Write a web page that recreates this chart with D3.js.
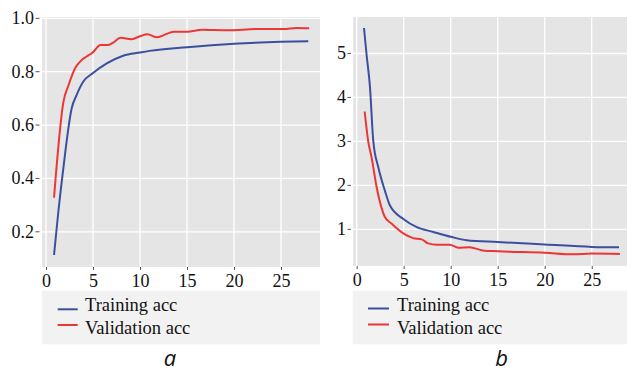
<!DOCTYPE html>
<html>
<head>
<meta charset="utf-8">
<script src="https://cdn.jsdelivr.net/npm/d3@7"></script>
<style>
  html, body { margin: 0; padding: 0; background: #fff; }
  svg { display: block; }
</style>
</head>
<body>
<svg id="chart" width="627" height="372"></svg>
<script>
// ---------------- data ----------------
const seriesNames = ["Training acc", "Validation acc"];
const xTicks = [0, 5, 10, 15, 20, 25];

// panel a: accuracy
const accTicks = [0.2, 0.4, 0.6, 0.8, 1.0];
const accTrainX = [0.85, 1.31, 1.84, 2.73, 3.26, 3.97, 5, 6.46, 8.2, 10, 11, 15, 20, 25, 27.9];
const accTrainY = [0.113, 0.276, 0.438, 0.663, 0.713, 0.763, 0.795, 0.831, 0.86, 0.872, 0.878, 0.892, 0.905, 0.912, 0.914];
const accValX = [0.85, 1.84, 2.4, 3.09, 3.6, 5, 5.8, 6.6, 7.2, 7.9, 9.1, 10, 10.8, 11.8, 13.6, 15, 16.6, 19.3, 22.5, 25.3, 26.7, 28];
const accValY = [0.328, 0.685, 0.75, 0.813, 0.837, 0.873, 0.9, 0.9, 0.91, 0.927, 0.922, 0.933, 0.94, 0.929, 0.95, 0.95, 0.957, 0.955, 0.96, 0.96, 0.964, 0.963];

// panel b: loss
const lossTicks = [1, 2, 3, 4, 5];
const lossTrainX = [0.78, 1.06, 1.41, 1.77, 2.3, 3.0, 3.54, 5, 6.4, 8.15, 10, 11.7, 15, 20, 25, 27.9];
const lossTrainY = [5.58, 4.96, 4.25, 3.0, 2.41, 1.88, 1.54, 1.23, 1.05, 0.94, 0.83, 0.75, 0.71, 0.655, 0.6, 0.59];
const lossValX = [0.85, 1.23, 1.6, 2.13, 3.0, 3.7, 5, 6, 6.9, 7.6, 8.5, 9.9, 10.8, 12, 13.4, 15, 20, 23, 25, 28];
const lossValY = [3.68, 3.0, 2.62, 1.95, 1.28, 1.13, 0.9, 0.8, 0.77, 0.68, 0.65, 0.65, 0.58, 0.59, 0.52, 0.5, 0.465, 0.43, 0.45, 0.44];

const panelLabels = ["a", "b"];

// ---------------- styles ----------------
const colors = ["#3b4fa0", "#ec3535"];
const panelBg = "#e5e5e5";
const legendBg = "#f2f2f2";
const serif = '"Liberation Serif"';

const svg = d3.select("#chart");

const panels = [
  {
    left: 42, right: 320, top: 17, bottom: 267,
    xDomain: [-0.43, 29.15],
    yDomain: [0.068, 1.005],
    yTicks: accTicks, yFmt: d3.format(".1f"),
    tickLabelRight: 34, tickX1: 35.5, tickX2: 39.5,
    series: [[accTrainX, accTrainY], [accValX, accValY]],
    legend: { x1: 42, x2: 320, y1: 290.7, y2: 344.3, lx1: 57.7, lx2: 77.7, ly: [309.3, 325], tx: 85, ty: [311, 334] },
    label: { x: 170, y: 366 }
  },
  {
    left: 353, right: 627, top: 17, bottom: 266,
    xDomain: [-0.39, 28.75],
    yDomain: [0.165, 5.83],
    yTicks: lossTicks, yFmt: d3.format("d"),
    tickLabelRight: 346, tickX1: 347.5, tickX2: 351,
    series: [[lossTrainX, lossTrainY], [lossValX, lossValY]],
    legend: { x1: 352.7, x2: 627, y1: 290.7, y2: 344.3, lx1: 368, lx2: 389, ly: [308.5, 324.5], tx: 397, ty: [311, 334] },
    label: { x: 501.7, y: 366 }
  }
];

panels.forEach((p, pi) => {
  const x = d3.scaleLinear().domain(p.xDomain).range([p.left, p.right]);
  const y = d3.scaleLinear().domain(p.yDomain).range([p.bottom, p.top]);
  const g = svg.append("g");

  g.append("rect")
    .attr("x", p.left).attr("y", p.top)
    .attr("width", p.right - p.left).attr("height", p.bottom - p.top)
    .attr("fill", panelBg);

  g.selectAll(".vg").data(xTicks).join("line")
    .attr("x1", d => x(d)).attr("x2", d => x(d))
    .attr("y1", p.top).attr("y2", p.bottom)
    .attr("stroke", "#fff").attr("stroke-width", 1.3);
  g.selectAll(".hg").data(p.yTicks).join("line")
    .attr("x1", p.left).attr("x2", p.right)
    .attr("y1", d => y(d)).attr("y2", d => y(d))
    .attr("stroke", "#fff").attr("stroke-width", 1.3);

  const xAxis = d3.axisBottom(x).tickValues(xTicks).tickSize(3).tickPadding(4).tickSizeOuter(0);
  const xg = g.append("g").attr("transform", `translate(0,${p.bottom})`).call(xAxis);
  xg.attr("font-family", null).attr("font-size", null);
  xg.select(".domain").remove();
  xg.selectAll(".tick line").attr("stroke", "#555").attr("stroke-width", 1);
  xg.selectAll(".tick text")
    .style("font-family", serif)
    .style("font-size", "18px").attr("fill", "#111")
    .attr("dy", null).attr("y", 19.5);

  const yg = g.append("g");
  yg.selectAll("text").data(p.yTicks).join("text")
    .style("font-family", serif)
    .attr("x", p.tickLabelRight).attr("y", d => y(d) + 6)
    .attr("text-anchor", "end")
    .style("font-size", "18px").attr("fill", "#111")
    .text(d => p.yFmt(d));
  yg.selectAll("line").data(p.yTicks).join("line")
    .attr("x1", p.tickX1).attr("x2", p.tickX2)
    .attr("y1", d => y(d)).attr("y2", d => y(d))
    .attr("stroke", "#555").attr("stroke-width", 1);

  const line = d3.line().x(d => x(d[0])).y(d => y(d[1])).curve(d3.curveMonotoneX);
  p.series.forEach((s, si) => {
    const pts = s[0].map((xv, i) => [xv, s[1][i]]);
    g.append("path").datum(pts)
      .attr("d", line)
      .attr("fill", "none")
      .attr("stroke", colors[si])
      .attr("stroke-width", 2);
  });

  const L = p.legend;
  g.append("rect")
    .attr("x", L.x1).attr("y", L.y1)
    .attr("width", L.x2 - L.x1).attr("height", L.y2 - L.y1)
    .attr("fill", legendBg);
  seriesNames.forEach((name, si) => {
    g.append("line")
      .attr("x1", L.lx1).attr("x2", L.lx2)
      .attr("y1", L.ly[si]).attr("y2", L.ly[si])
      .attr("stroke", colors[si]).attr("stroke-width", 2);
    g.append("text")
      .style("font-family", serif)
      .attr("x", L.tx).attr("y", L.ty[si])
      .style("font-size", "18.5px").attr("fill", "#111")
      .text(name);
  });

  g.append("text")
    .attr("x", p.label.x).attr("y", p.label.y)
    .attr("text-anchor", "middle")
    .style("font-family", "'Open Sans', 'Noto Sans', sans-serif")
    .style("font-style", "italic")
    .style("font-size", "22px").attr("fill", "#111")
    .text(panelLabels[pi]);
});
</script>
</body>
</html>
